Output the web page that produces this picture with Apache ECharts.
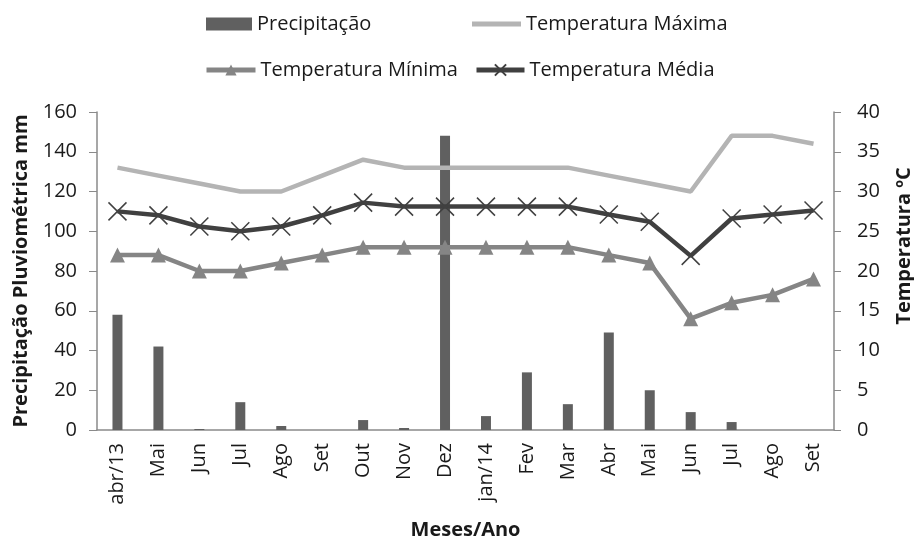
<!DOCTYPE html>
<html><head><meta charset="utf-8">
<script src="https://cdn.jsdelivr.net/npm/echarts@6/dist/echarts.min.js"></script>
<style>html,body{margin:0;padding:0;background:#fff}#c{width:914px;height:542px}</style>
</head><body><div id="c"></div>
<script>
const categories = ['abr/13','Mai','Jun','Jul','Ago','Set','Out','Nov','Dez','jan/14','Fev','Mar','Abr','Mai','Jun','Jul','Ago','Set'];
const precipitacao = [58,42,0.5,14,2,0,5,1,148,7,29,13,49,20,9,4,0,0];
const tempMax = [33,32,31,30,30,32,34,33,33,33,33,33,32,31,30,37,37,36];
const tempMin = [22,22,20,20,21,22,23,23,23,23,23,23,22,21,14,16,17,19];
const tempMed = [27.5,27,25.6,25,25.6,27,28.6,28.1,28.1,28.1,28.1,28.1,27.1,26.2,21.9,26.6,27.1,27.6];

const F = '"Open Sans", sans-serif';
const TXT = '#1a1a1a';
const chart = echarts.init(document.getElementById('c'));
const legendText = {fontFamily: F, fontSize: 20, color: TXT};
chart.setOption({
  animation: false,
  textStyle: {fontFamily: F},
  legend: [
    {data: [{name: 'Precipitação', icon: 'rect'}], left: 201, top: 9, itemWidth: 46, itemHeight: 13, textStyle: legendText},
    {data: [{name: 'Temperatura Máxima', icon: 'rect'}], left: 467, top: 9, itemWidth: 49, itemHeight: 5, textStyle: legendText},
    {data: ['Temperatura Mínima'], left: 199, top: 55, itemWidth: 49, itemHeight: 14, lineStyle: {width: 5}, textStyle: legendText},
    {data: ['Temperatura Média'], left: 469, top: 55, itemWidth: 48, itemHeight: 14, lineStyle: {width: 5}, textStyle: legendText}
  ],
  grid: {left: 97, right: 80, top: 112, bottom: 112, containLabel: false, outerBoundsMode: 'none'},
  xAxis: {
    type: 'category', data: categories,
    name: 'Meses/Ano', nameLocation: 'middle', nameGap: 90,
    nameTextStyle: {fontFamily: F, fontSize: 20, fontWeight: 'bold', color: TXT},
    axisLine: {lineStyle: {color: '#8a8a8a', width: 1.5}},
    axisTick: {show: false},
    axisLabel: {rotate: 90, fontSize: 20, color: TXT, fontFamily: F, interval: 0, margin: 13}
  },
  yAxis: [
    {type: 'value', min: 0, max: 160, interval: 20,
     name: 'Precipitação Pluviométrica mm', nameLocation: 'middle', nameGap: 60, nameRotate: 90,
     nameTextStyle: {fontFamily: F, fontSize: 20, fontWeight: 'bold', color: TXT},
     axisLine: {show: true, lineStyle: {color: '#8a8a8a', width: 1.5}},
     axisTick: {show: true, length: 8, lineStyle: {color: '#8a8a8a'}},
     splitLine: {show: false},
     axisLabel: {fontSize: 20, color: TXT, fontFamily: F, margin: 20}},
    {type: 'value', min: 0, max: 40, interval: 5,
     name: 'Temperatura ºC', nameLocation: 'middle', nameGap: 60, nameRotate: 90,
     nameTextStyle: {fontFamily: F, fontSize: 20, fontWeight: 'bold', color: TXT, padding: [0, 0, 0, 50]},
     axisLine: {show: true, lineStyle: {color: '#8a8a8a', width: 1.5}},
     axisTick: {show: true, length: 7, lineStyle: {color: '#8a8a8a'}},
     splitLine: {show: false},
     axisLabel: {fontSize: 20, color: TXT, fontFamily: F, margin: 23}}
  ],
  series: [
    {name: 'Precipitação', type: 'bar', data: precipitacao, barWidth: 10, itemStyle: {color: '#606060'}},
    {name: 'Temperatura Máxima', type: 'line', yAxisIndex: 1, data: tempMax, symbol: 'none',
     lineStyle: {color: '#b4b4b4', width: 4.5}, itemStyle: {color: '#b4b4b4'}},
    {name: 'Temperatura Mínima', type: 'line', yAxisIndex: 1, data: tempMin, symbol: 'triangle', symbolSize: 15,
     lineStyle: {color: '#858585', width: 4.5}, itemStyle: {color: '#858585'}},
    {name: 'Temperatura Média', type: 'line', yAxisIndex: 1, data: tempMed,
     symbol: 'path://M0,0L10,10M10,0L0,10', symbolSize: 18,
     lineStyle: {color: '#404040', width: 4.5},
     itemStyle: {color: 'rgba(0,0,0,0)', borderColor: '#404040', borderWidth: 1.5}}
  ]
});
</script></body></html>
